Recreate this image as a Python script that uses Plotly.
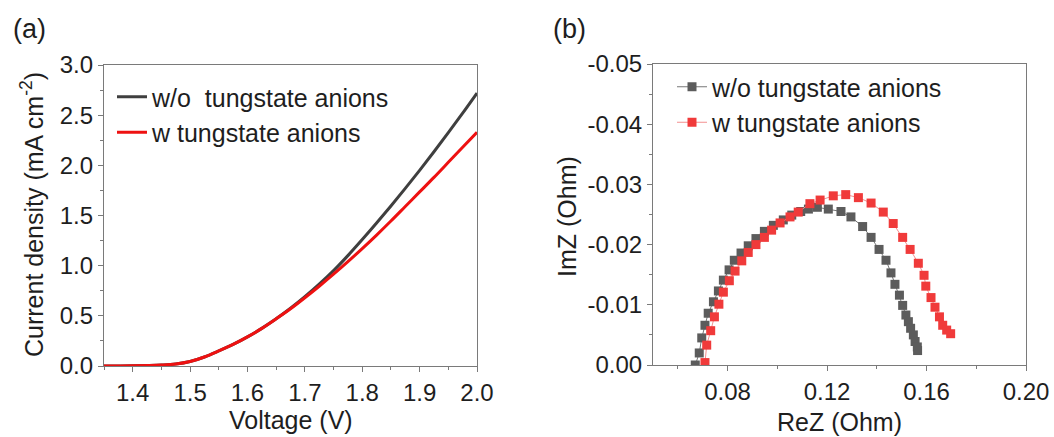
import plotly.graph_objects as go

# ---- (a) polarization curves ----
voltage = [1.35, 1.40, 1.45, 1.475, 1.50, 1.525, 1.55, 1.575, 1.60, 1.625, 1.65, 1.675,
           1.70, 1.725, 1.75, 1.775, 1.80, 1.825, 1.85, 1.875, 1.90, 1.925, 1.95, 1.975, 2.00]
j_without = [0, 0.002, 0.01, 0.02, 0.045, 0.09, 0.15, 0.215, 0.29, 0.375, 0.47, 0.575,
             0.69, 0.815, 0.95, 1.10, 1.26, 1.425, 1.595, 1.77, 1.95, 2.135, 2.325, 2.52, 2.72]
j_with = [0, 0.002, 0.01, 0.02, 0.045, 0.09, 0.15, 0.215, 0.29, 0.375, 0.47, 0.57,
          0.68, 0.795, 0.915, 1.04, 1.17, 1.305, 1.445, 1.59, 1.735, 1.88, 2.03, 2.18, 2.33]

# ---- (b) Nyquist plots ----
rez_without = [0.0670, 0.0686, 0.0696, 0.0709, 0.0722, 0.0743, 0.0763, 0.0783, 0.0806, 0.0827,
               0.0854, 0.0883, 0.0914, 0.0948, 0.0984, 0.1024, 0.1058, 0.1094, 0.1125, 0.1161,
               0.1205, 0.1256, 0.1296, 0.1343, 0.1377, 0.1409, 0.1437, 0.1457, 0.1473, 0.1491,
               0.1504, 0.1517, 0.1527, 0.1536, 0.1547, 0.1554, 0.1563, 0.1564]
imz_without = [0.0000, -0.0020, -0.0045, -0.0066, -0.0086, -0.0105, -0.0123, -0.0141, -0.0158, -0.0174,
               -0.0186, -0.0198, -0.0210, -0.0222, -0.0232, -0.0241, -0.0249, -0.0255, -0.0259, -0.0262,
               -0.0259, -0.0255, -0.0246, -0.0230, -0.0212, -0.0192, -0.0174, -0.0153, -0.0134, -0.0116,
               -0.0099, -0.0083, -0.0072, -0.0061, -0.0050, -0.0039, -0.0030, -0.0024]
rez_with = [0.0709, 0.0716, 0.0732, 0.0747, 0.0765, 0.0783, 0.0807, 0.0830, 0.0857, 0.0883,
            0.0914, 0.0948, 0.0977, 0.1011, 0.1051, 0.1084, 0.1131, 0.1172, 0.1225, 0.1275,
            0.1326, 0.1377, 0.1426, 0.1466, 0.1504, 0.1534, 0.1567, 0.1590, 0.1597, 0.1618,
            0.1634, 0.1652, 0.1665, 0.1681, 0.1697]
imz_with = [-0.0004, -0.0033, -0.0057, -0.0080, -0.0101, -0.0121, -0.0140, -0.0156, -0.0173, -0.0187,
            -0.0200, -0.0212, -0.0224, -0.0236, -0.0246, -0.0254, -0.0268, -0.0274, -0.0281, -0.0283,
            -0.0278, -0.0269, -0.0254, -0.0235, -0.0212, -0.0192, -0.0169, -0.0149, -0.0131, -0.0112,
            -0.0096, -0.0080, -0.0066, -0.0058, -0.0052]

series_names = ["w/o  tungstate anions", "w tungstate anions"]
v_ticks = [1.4, 1.5, 1.6, 1.7, 1.8, 1.9, 2.0]
j_ticks = [0.0, 0.5, 1.0, 1.5, 2.0, 2.5, 3.0]
rez_ticks = [0.08, 0.12, 0.16, 0.20]
imz_ticks = [0.00, -0.01, -0.02, -0.03, -0.04, -0.05]

FONT = "Liberation Sans, Arial, sans-serif"
TXT = "#1e1e1e"
AX = "#7a7a7a"
W, H = 1054, 437

fig = go.Figure()

fig.add_trace(go.Scatter(x=voltage, y=j_without, mode="lines", name=series_names[0],
                         line=dict(color="#3f3f3f", width=3, shape="spline"),
                         xaxis="x", yaxis="y", legend="legend"))
fig.add_trace(go.Scatter(x=voltage, y=j_with, mode="lines", name=series_names[1],
                         line=dict(color="#ee1111", width=3, shape="spline"),
                         xaxis="x", yaxis="y", legend="legend"))

fig.add_trace(go.Scatter(x=rez_without, y=imz_without, mode="lines+markers", name="w/o tungstate anions",
                         line=dict(color="#777777", width=1),
                         marker=dict(symbol="square", size=9, color="#5c5c5c"),
                         xaxis="x2", yaxis="y2", legend="legend2"))
fig.add_trace(go.Scatter(x=rez_with, y=imz_with, mode="lines+markers", name="w tungstate anions",
                         line=dict(color="#f39090", width=1),
                         marker=dict(symbol="square", size=9, color="#f03a3a"),
                         xaxis="x2", yaxis="y2", legend="legend2"))

axis_common = dict(showline=True, linecolor=AX, linewidth=1.2, mirror=True,
                   ticks="outside", ticklen=5, tickwidth=1.2, tickcolor=AX,
                   showgrid=False, zeroline=False, automargin=False,
                   tickfont=dict(family=FONT, size=24, color=TXT))

fig.update_layout(
    width=W, height=H,
    margin=dict(l=0, r=0, t=0, b=0),
    paper_bgcolor="white", plot_bgcolor="white",
    font=dict(family=FONT, color=TXT),
    xaxis=dict(domain=[104 / W, 477 / W], range=[1.35, 2.0], tickvals=v_ticks,
               ticktext=[f"{v:.1f}" for v in v_ticks], anchor="y",
               minor=dict(ticks="outside", ticklen=3, tickcolor=AX, dtick=0.05, tick0=1.35),
               **axis_common),
    yaxis=dict(domain=[1 - 366 / H, 1 - 65 / H], range=[0, 3.0], tickvals=j_ticks,
               ticktext=[f"{v:.1f}" for v in j_ticks], anchor="x",
               minor=dict(ticks="outside", ticklen=3, tickcolor=AX, dtick=0.25, tick0=0),
               **axis_common),
    xaxis2=dict(domain=[653 / W, 1026 / W], range=[0.05, 0.20], tickvals=rez_ticks,
                ticktext=[f"{v:.2f}" for v in rez_ticks], anchor="y2",
                minor=dict(ticks="outside", ticklen=3, tickcolor=AX, dtick=0.02, tick0=0.06),
                **axis_common),
    yaxis2=dict(domain=[1 - 365 / H, 1 - 64 / H], range=[0, -0.05], tickvals=imz_ticks,
                ticktext=[f"{v:.2f}" for v in imz_ticks], anchor="x2",
                minor=dict(ticks="outside", ticklen=3, tickcolor=AX, dtick=0.005, tick0=0),
                **axis_common),
    legend=dict(x=112 / W, y=1 - 74 / H, xanchor="left", yanchor="top",
                bgcolor="rgba(0,0,0,0)", font=dict(family=FONT, size=25, color=TXT),
                tracegroupgap=0, itemwidth=30),
    legend2=dict(x=672 / W, y=1 - 64 / H, xanchor="left", yanchor="top",
                 bgcolor="rgba(0,0,0,0)", font=dict(family=FONT, size=25, color=TXT),
                 tracegroupgap=0, itemwidth=30),
    showlegend=True,
)

annotations = [
    dict(text="(a)", x=11 / W, y=1 - 29 / H, xanchor="left", yanchor="middle", font=dict(size=27)),
    dict(text="(b)", x=551 / W, y=1 - 29 / H, xanchor="left", yanchor="middle", font=dict(size=27)),
    dict(text="Voltage (V)", x=290.5 / W, y=1 - 420 / H, xanchor="center", yanchor="middle", font=dict(size=25)),
    dict(text="ReZ (Ohm)", x=839.5 / W, y=1 - 422 / H, xanchor="center", yanchor="middle", font=dict(size=25)),
    dict(text="Current density (mA cm<sup>-2</sup>)", x=32 / W, y=1 - 215 / H, xanchor="center",
         yanchor="middle", textangle=-90, font=dict(size=25)),
    dict(text="ImZ (Ohm)", x=567 / W, y=1 - 217 / H, xanchor="center", yanchor="middle",
         textangle=-90, font=dict(size=25)),
]
for a in annotations:
    a.update(xref="paper", yref="paper", showarrow=False)
    a["font"].update(family=FONT, color=TXT)
fig.update_layout(annotations=annotations)

fig.write_html("out.html")
